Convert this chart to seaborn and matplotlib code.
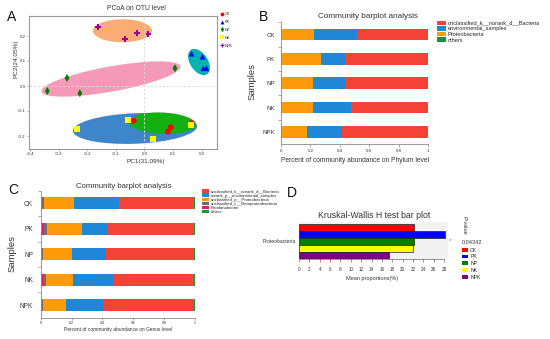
import numpy as np
import pandas as pd
import matplotlib
matplotlib.use('Agg')
import matplotlib.pyplot as plt
import seaborn as sns
from matplotlib.patches import Ellipse, Patch
from matplotlib.lines import Line2D

# ---------------- data ----------------
groups = ['CK', 'PK', 'NP', 'NK', 'NPK']

# Panel A: PCoA scores
pc_group = ['CK', 'CK', 'CK', 'CK', 'PK', 'PK', 'PK', 'PK', 'NP', 'NP', 'NP', 'NP',
            'NK', 'NK', 'NK', 'NK', 'NPK', 'NPK', 'NPK', 'NPK']
pc1 = [-0.038, 0.092, 0.082, 0.165, 0.165, 0.203, 0.206, 0.217, -0.340, -0.271, -0.226, 0.107,
       -0.236, -0.057, 0.029, 0.163, -0.163, -0.067, -0.026, 0.014]
pc2 = [-0.139, -0.165, -0.183, -0.148, 0.129, 0.117, 0.071, 0.071, -0.020, 0.032, -0.029, 0.071,
       -0.172, -0.137, -0.213, -0.157, 0.235, 0.187, 0.213, 0.207]
# group ellipses (center, width, height, angle)
ell_group = ['NP', 'NPK', 'PK', 'NK', 'CK']
ell_cx = [-0.117, -0.077, 0.191, -0.033, 0.0625]
ell_cy = [0.028, 0.221, 0.096, -0.170, -0.149]
ell_w = [0.497, 0.207, 0.113, 0.435, 0.236]
ell_h = [0.100, 0.092, 0.064, 0.122, 0.086]
ell_ang = [11.8, 0.0, -63.0, 2.6, -3.0]

# Panel B: phylum level
phy_samples = ['CK', 'PK', 'NP', 'NK', 'NPK']
phy_proteo = [0.222, 0.271, 0.215, 0.219, 0.174]
phy_env = [0.292, 0.170, 0.219, 0.256, 0.240]
phy_uncl = [0.484, 0.557, 0.564, 0.523, 0.584]
phy_others = [0.002, 0.002, 0.002, 0.002, 0.002]

# Panel C: genus level
gen_samples = ['CK', 'PK', 'NP', 'NK', 'NPK']
gen_rhodano = [0.006, 0.022, 0.002, 0.017, 0.002]
gen_beta = [0.014, 0.017, 0.013, 0.015, 0.011]
gen_proteo = [0.196, 0.227, 0.190, 0.178, 0.151]
gen_env = [0.292, 0.168, 0.218, 0.263, 0.240]
gen_uncl = [0.488, 0.557, 0.568, 0.518, 0.587]
gen_others = [0.004, 0.009, 0.009, 0.009, 0.009]

# Panel D: Kruskal-Wallis
kw_feature = ['Proteobacteria'] * 5
kw_groups = ['CK', 'PK', 'NP', 'NK', 'NPK']
kw_mean = [22.1, 28.1, 22.2, 21.9, 17.4]
kw_pvalue = '0.04342'

# ---------------- style ----------------
sns.set_theme(style='white')
plt.rcParams['font.family'] = ['Liberation Sans', 'DejaVu Sans']
plt.rcParams['axes.unicode_minus'] = False

W, H = 550, 339
fig = plt.figure(figsize=(5.5, 3.39), dpi=100)


def box(l, t, r, b):
    return [l / W, 1 - b / H, (r - l) / W, (b - t) / H]


def fx(x):
    return x / W


def fy(y):
    return 1 - y / H


# ================= Panel A =================
pt_colors = {'CK': '#FF0000', 'PK': '#0000FF', 'NP': '#008000', 'NK': '#FFFF00', 'NPK': '#990099'}
pt_markers = {'CK': 'o', 'PK': '^', 'NP': 'd', 'NK': 's', 'NPK': 'P'}
ell_colors = {'NP': '#F79AB9', 'NPK': '#F9AC74', 'PK': '#00B2B2', 'NK': '#3F85C9', 'CK': '#12B012'}

axA = fig.add_axes(box(29, 16, 217, 149))
for g, cx, cy, w, h, a in zip(ell_group, ell_cx, ell_cy, ell_w, ell_h, ell_ang):
    axA.add_patch(Ellipse((cx, cy), w, h, angle=a, facecolor=ell_colors[g],
                          edgecolor='none', zorder=1))
axA.axhline(0, color='#d6d6d6', ls=(0, (3, 2)), lw=0.6, zorder=2)
axA.axvline(0, color='#d6d6d6', ls=(0, (3, 2)), lw=0.6, zorder=2)
dfA = pd.DataFrame({'group': pc_group, 'PC1': pc1, 'PC2': pc2})
sns.scatterplot(data=dfA, x='PC1', y='PC2', hue='group', style='group',
                hue_order=groups, style_order=groups, palette=pt_colors,
                markers=pt_markers, s=17, linewidth=0, legend=False, ax=axA, zorder=3)
axA.set_xlim(-0.404, 0.254)
axA.set_ylim(-0.252, 0.28)
axA.set_xticks([-0.4, -0.3, -0.2, -0.1, 0.0, 0.1, 0.2])
axA.set_xticklabels(['-0.4', '-0.3', '-0.2', '-0.1', '0.0', '0.1', '0.2'])
axA.set_yticks([-0.2, -0.1, 0.0, 0.1, 0.2])
axA.set_yticklabels(['-0.2', '-0.1', '0.0', '0.1', '0.2'])
for sp in axA.spines.values():
    sp.set_color('#9a9a9a')
    sp.set_linewidth(0.8)
axA.tick_params(bottom=True, left=True, length=1.5, width=0.5, color='#9a9a9a',
                labelsize=3.2, pad=1, labelcolor='#333333')
axA.set_xlabel('PC1(31.09%)', fontsize=4.6, color='#333333')
axA.xaxis.set_label_coords(0.622, -0.075)
axA.set_ylabel('PC2(24.05%)', fontsize=4.6, color='#333333')
axA.yaxis.set_label_coords(-0.056, 0.677)
fig.text(fx(136), fy(9), 'PCoA on OTU level', ha='center', va='center', fontsize=4.9, color='#333333')
handlesA = [Line2D([], [], ls='', marker=pt_markers[g], color=pt_colors[g],
                   markersize=2.8, markeredgewidth=0) for g in groups]
axA.legend(handlesA, groups, loc='upper left', bbox_to_anchor=(fx(220), fy(12)),
           bbox_transform=fig.transFigure, frameon=False, fontsize=2.8,
           handlelength=0.8, handletextpad=0.3, labelspacing=1.0,
           borderpad=0, borderaxespad=0)

# ================= Panel B =================
phy_names = ['Proteobacteria', 'environmental_samples',
             'unclassified_k__norank_d__Bacteria', 'others']
phy_colors = {'unclassified_k__norank_d__Bacteria': '#F44336',
              'environmental_samples': '#1E88D6',
              'Proteobacteria': '#FF9B0A', 'others': '#14963A'}
dfB = pd.DataFrame({'Sample': phy_samples, 'Proteobacteria': phy_proteo,
                    'environmental_samples': phy_env,
                    'unclassified_k__norank_d__Bacteria': phy_uncl, 'others': phy_others})
cumB = dfB[phy_names].cumsum(axis=1)
cumB['Sample'] = dfB['Sample']
axB = fig.add_axes(box(281, 22.35, 428, 144))
for name in reversed(phy_names):
    sns.barplot(data=cumB, x=name, y='Sample', orient='h', color=phy_colors[name],
                width=0.48, saturation=1, errorbar=None, linewidth=0, ax=axB)
axB.set_xlim(0, 1)
axB.set_ylim(4.5, -0.5)
sns.despine(ax=axB)
for s in ['left', 'bottom']:
    axB.spines[s].set_color('#8a8a8a')
    axB.spines[s].set_linewidth(0.6)
axB.set_xticks([0, 0.2, 0.4, 0.6, 0.8, 1])
axB.set_xticklabels(['0', '0.2', '0.4', '0.6', '0.8', '1'])
axB.tick_params(axis='x', bottom=True, length=2, width=0.5, color='#8a8a8a',
                labelsize=3.2, pad=1.5, labelcolor='#333333')
axB.tick_params(axis='y', which='major', length=0, pad=4.3, labelsize=4.4, labelcolor='#333333')
axB.set_yticks([-0.5, 0.5, 1.5, 2.5, 3.5], minor=True)
axB.tick_params(axis='y', which='minor', left=True, length=2.5, width=0.5, color='#8a8a8a')
axB.set_xlabel('Percent of community abundance on Phylum level', fontsize=4.8, color='#333333')
axB.xaxis.set_label_coords(0.503, -0.107)
axB.set_ylabel('Samples', fontsize=6.8, color='#333333')
axB.yaxis.set_label_coords(-0.163, 0.51)
fig.text(fx(368), fy(16), 'Community barplot analysis', ha='center', va='center',
         fontsize=5.9, color='#333333')
legB_order = ['unclassified_k__norank_d__Bacteria', 'environmental_samples',
              'Proteobacteria', 'others']
axB.legend([Patch(facecolor=phy_colors[n], edgecolor='none') for n in legB_order], legB_order,
           loc='upper left', bbox_to_anchor=(fx(437), fy(20.5)), bbox_transform=fig.transFigure,
           frameon=False, fontsize=4.1, handlelength=1.5, handleheight=0.9,
           handletextpad=0.4, labelspacing=0.05, borderpad=0, borderaxespad=0)

# ================= Panel C =================
gen_names = ['Rhodanobacter', 'unclassified_c__Betaproteobacteria',
             'unclassified_p__Proteobacteria', 'norank_p__environmental_samples',
             'unclassified_k__norank_d__Bacteria', 'others']
gen_colors = {'unclassified_k__norank_d__Bacteria': '#F44336',
              'norank_p__environmental_samples': '#1E88D6',
              'unclassified_p__Proteobacteria': '#FF9B0A',
              'unclassified_c__Betaproteobacteria': '#6E6E6E',
              'Rhodanobacter': '#E8196A', 'others': '#14963A'}
dfC = pd.DataFrame({'Sample': gen_samples, 'Rhodanobacter': gen_rhodano,
                    'unclassified_c__Betaproteobacteria': gen_beta,
                    'unclassified_p__Proteobacteria': gen_proteo,
                    'norank_p__environmental_samples': gen_env,
                    'unclassified_k__norank_d__Bacteria': gen_uncl, 'others': gen_others})
cumC = dfC[gen_names].cumsum(axis=1)
cumC['Sample'] = dfC['Sample']
axC = fig.add_axes(box(40.7, 190.7, 195, 317.7))
for name in reversed(gen_names):
    sns.barplot(data=cumC, x=name, y='Sample', orient='h', color=gen_colors[name],
                width=0.47, saturation=1, errorbar=None, linewidth=0, ax=axC)
axC.set_xlim(0, 1)
axC.set_ylim(4.5, -0.5)
sns.despine(ax=axC)
for s in ['left', 'bottom']:
    axC.spines[s].set_color('#8a8a8a')
    axC.spines[s].set_linewidth(0.6)
axC.set_xticks([0, 0.2, 0.4, 0.6, 0.8, 1])
axC.set_xticklabels(['0', '0.2', '0.4', '0.6', '0.8', '1'])
axC.tick_params(axis='x', bottom=True, length=1.2, width=0.5, color='#8a8a8a',
                labelsize=2.6, pad=1, labelcolor='#333333')
axC.tick_params(axis='y', which='major', length=0, pad=5.5, labelsize=4.7, labelcolor='#333333')
axC.set_yticks([-0.5, 0.5, 1.5, 2.5, 3.5], minor=True)
axC.tick_params(axis='y', which='minor', left=True, length=2.5, width=0.5, color='#8a8a8a')
axC.set_xlabel('Percent of community abundance on Genus level', fontsize=3.5, color='#333333')
axC.xaxis.set_label_coords(0.5, -0.071)
axC.set_ylabel('Samples', fontsize=6.8, color='#333333')
axC.yaxis.set_label_coords(-0.156, 0.507)
fig.text(fx(123.7), fy(186.7), 'Community barplot analysis', ha='center', va='center',
         fontsize=5.6, color='#333333')
legC_order = ['unclassified_k__norank_d__Bacteria', 'norank_p__environmental_samples',
              'unclassified_p__Proteobacteria', 'unclassified_c__Betaproteobacteria',
              'Rhodanobacter', 'others']
axC.legend([Patch(facecolor=gen_colors[n], edgecolor='none') for n in legC_order], legC_order,
           loc='upper left', bbox_to_anchor=(fx(202), fy(189.3)), bbox_transform=fig.transFigure,
           frameon=False, fontsize=3.1, handlelength=1.6, handleheight=0.8,
           handletextpad=0.4, labelspacing=0.0, borderpad=0, borderaxespad=0)

# ================= Panel D =================
kw_colors = {'CK': '#FF0000', 'PK': '#0000FF', 'NP': '#008000', 'NK': '#FFFF00', 'NPK': '#800080'}
dfD = pd.DataFrame({'feature': kw_feature, 'group': kw_groups, 'mean': kw_mean})
axD = fig.add_axes(box(299, 221.7, 448.3, 259.3))
axD.set_facecolor('#F2F1F2')
sns.barplot(data=dfD, x='mean', y='feature', hue='group', hue_order=kw_groups, orient='h',
            palette=kw_colors, width=0.91, saturation=1, errorbar=None,
            edgecolor='#222222', linewidth=0.5, legend=False, ax=axD)
axD.set_xlim(0, 28.8)
axD.set_ylim(0.474, -0.527)
for s in ['left', 'top', 'right']:
    axD.spines[s].set_visible(False)
axD.spines['bottom'].set_bounds(0, 28)
axD.spines['bottom'].set_color('#666666')
axD.spines['bottom'].set_linewidth(0.5)
axD.set_xticks(list(range(0, 29, 2)))
axD.tick_params(axis='x', bottom=True, length=2, width=0.5, color='#666666',
                labelsize=3.3, pad=3.4, labelcolor='#333333')
axD.tick_params(axis='y', length=0, pad=2.2, labelsize=3.6, labelcolor='#333333')
axD.set_ylabel('')
axD.set_xlabel('Mean proportions(%)', fontsize=4.0, color='#333333')
axD.xaxis.set_label_coords(0.491, -0.444)
fig.text(fx(374), fy(215.7), 'Kruskal-Wallis H test bar plot', ha='center', va='center',
         fontsize=6.3, color='#333333')
fig.text(fx(464), fy(225), 'P-value', rotation=270, ha='center', va='center',
         fontsize=4.0, color='#333333')
fig.text(fx(450), fy(241), '*', ha='center', va='center', fontsize=4.5, color='#FF3030')
fig.text(fx(462), fy(242), kw_pvalue, ha='left', va='center', fontsize=4.0, color='#333333')
axD.legend([Patch(facecolor=kw_colors[g], edgecolor='none') for g in kw_groups], kw_groups,
           loc='upper left', bbox_to_anchor=(fx(461.5), fy(247.5)), bbox_transform=fig.transFigure,
           frameon=False, fontsize=3.7, handlelength=1.2, handleheight=0.75,
           handletextpad=0.5, labelspacing=0.35, borderpad=0, borderaxespad=0)

# panel letters
fig.text(fx(6.5), fy(20.7), 'A', fontsize=10, va='baseline', color='#111111')
fig.text(fx(258.5), fy(20.7), 'B', fontsize=10, va='baseline', color='#111111')
fig.text(fx(8), fy(194), 'C', fontsize=10, va='baseline', color='#111111')
fig.text(fx(286.5), fy(197.3), 'D', fontsize=10, va='baseline', color='#111111')

fig.savefig('out.png', dpi=100)
